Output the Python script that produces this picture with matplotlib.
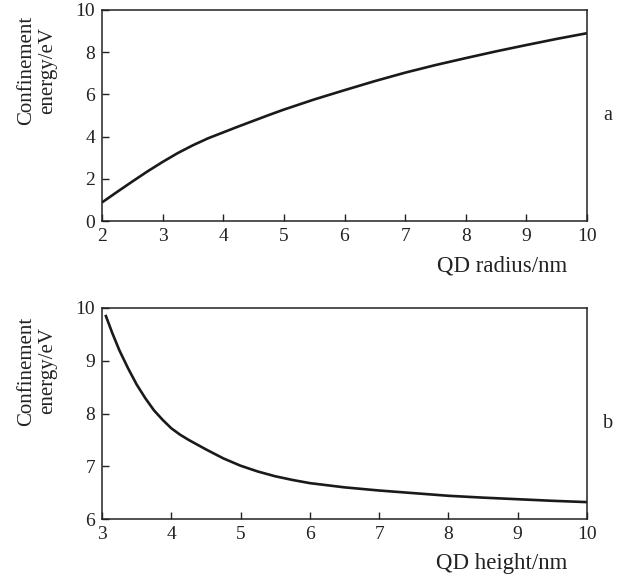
import matplotlib
matplotlib.use("Agg")
import matplotlib.pyplot as plt

plt.rcParams['font.family'] = ['Liberation Serif', 'DejaVu Serif']

# Panel a: confinement energy vs QD radius
radius_nm = [2, 2.25, 2.5, 2.75, 3, 3.25, 3.5, 3.75, 4, 4.25, 4.5, 4.75, 5, 5.5, 6, 6.5, 7, 7.5, 8, 8.5, 9, 9.5, 10]
energy_a = [0.88, 1.38, 1.87, 2.35, 2.8, 3.22, 3.59, 3.92, 4.2, 4.48, 4.75, 5.02, 5.28, 5.76, 6.2, 6.63, 7.03, 7.39, 7.72, 8.04, 8.34, 8.63, 8.9]

# Panel b: confinement energy vs QD height
height_nm = [3.05, 3.15, 3.25, 3.375, 3.5, 3.625, 3.75, 3.875, 4, 4.125, 4.25, 4.5, 4.75, 5, 5.25, 5.5, 5.75, 6, 6.5, 7, 7.5, 8, 8.5, 9, 9.5, 10]
energy_b = [9.87, 9.52, 9.2, 8.86, 8.55, 8.29, 8.06, 7.88, 7.72, 7.6, 7.5, 7.32, 7.15, 7.01, 6.9, 6.81, 6.74, 6.68, 6.6, 6.54, 6.49, 6.44, 6.405, 6.375, 6.345, 6.32]

xticks_a = [2, 3, 4, 5, 6, 7, 8, 9, 10]
yticks_a = [0, 2, 4, 6, 8, 10]
xticks_b = [3, 4, 5, 6, 7, 8, 9, 10]
yticks_b = [6, 7, 8, 9, 10]

W, H = 626, 578
fig = plt.figure(figsize=(W / 100, H / 100), dpi=100)

def box(l, t, r, b):
    return [l / W, 1 - b / H, (r - l) / W, (b - t) / H]

ax1 = fig.add_axes(box(102, 10, 587, 221))
ax2 = fig.add_axes(box(102, 308, 587, 519))

line_color = '#1a1a1a'
for ax, x, y, xt, yt in [(ax1, radius_nm, energy_a, xticks_a, yticks_a),
                         (ax2, height_nm, energy_b, xticks_b, yticks_b)]:
    ax.plot(x, y, color=line_color, lw=1.9, solid_capstyle='butt', solid_joinstyle='round')
    ax.set_xlim(xt[0], xt[-1])
    ax.set_ylim(yt[0], yt[-1])
    ax.set_xticks(xt)
    ax.set_yticks(yt)
    ax.tick_params(direction='in', length=5, width=1, labelsize=14,
                   top=False, right=False, colors='#222222', pad=5)
    for s in ax.spines.values():
        s.set_linewidth(1.1)
        s.set_color('#222222')

label_kw = dict(rotation=90, ha='center', va='center', fontsize=15,
                multialignment='center', linespacing=1.15, color='#222222')
fig.text(37.5 / W, 1 - 70 / H, 'Confinement\nenergy/eV', **label_kw)
fig.text(37.5 / W, 1 - 371 / H, 'Confinement\nenergy/eV', **label_kw)

fig.text(567 / W, 1 - 266 / H, 'QD radius/nm', ha='right', va='center', fontsize=16.5, color='#222222')
fig.text(567 / W, 1 - 563 / H, 'QD height/nm', ha='right', va='center', fontsize=16.5, color='#222222')

fig.text(608 / W, 1 - 115 / H, 'a', ha='center', va='center', fontsize=14.5, color='#222222')
fig.text(608 / W, 1 - 423 / H, 'b', ha='center', va='center', fontsize=14.5, color='#222222')

fig.savefig('out.png', dpi=100)
